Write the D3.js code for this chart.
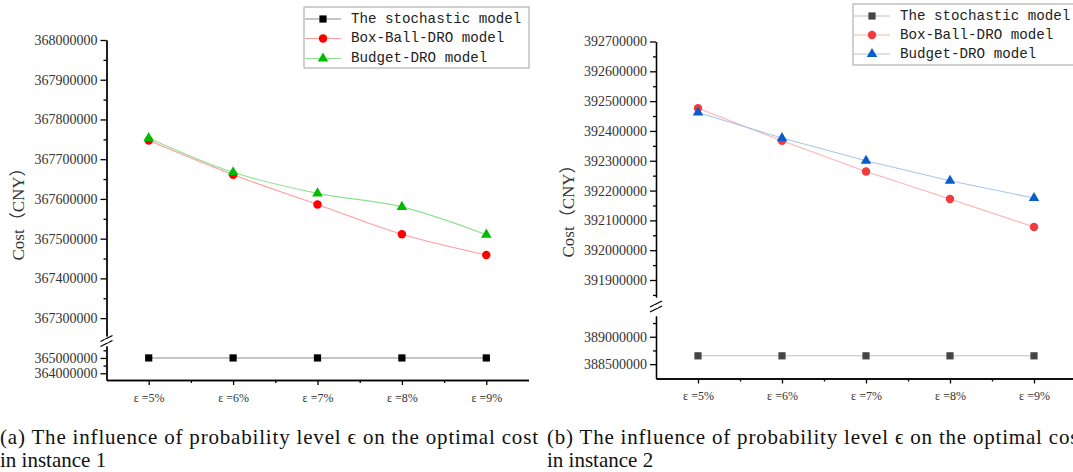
<!DOCTYPE html>
<html>
<head>
<meta charset="utf-8">
<script src="https://cdn.jsdelivr.net/npm/d3@7"></script>
<style>
  body { margin: 0; background: #fff; }
  svg { display: block; }
</style>
</head>
<body>
<svg id="chart" width="1073" height="472"></svg>
<script>
// ---- data ----
const levels = [5, 6, 7, 8, 9];
const tickLabels = ["ε =5%", "ε =6%", "ε =7%", "ε =8%", "ε =9%"];
const seriesNames = ["The stochastic model", "Box-Ball-DRO model", "Budget-DRO model"];

// instance 1
const stochasticA = [365000000, 365000000, 365000000, 365000000, 365000000];
const boxBallA = [367747000, 367661000, 367586000, 367511000, 367459000];
const budgetA = [367753000, 367667000, 367614000, 367580000, 367510000];
const upperTicksA = [367300000, 367400000, 367500000, 367600000, 367700000, 367800000, 367900000, 368000000];
const lowerTicksA = [364000000, 365000000];
const lowerMinorA = [364500000, 365500000];

// instance 2
const stochasticB = [388652000, 388652000, 388652000, 388652000, 388652000];
const boxBallB = [392476000, 392367000, 392264000, 392172000, 392078000];
const budgetB = [392462000, 392376000, 392300000, 392233000, 392175000];
const upperTicksB = [391900000, 392000000, 392100000, 392200000, 392300000, 392400000, 392500000, 392600000, 392700000];
const lowerTicksB = [388500000, 389000000];
const lowerMinorB = [388750000, 389250000];

const captionA = ["(a) The influence of probability level ϵ on the optimal cost", "in instance 1"];
const captionB = ["(b) The influence of probability level ϵ on the optimal cost", "in instance 2"];

const svg = d3.select("#chart");

function midpoints(ticks) {
  return d3.pairs(ticks).map(p => (p[0] + p[1]) / 2);
}

function drawPanel(p) {
  const g = svg.append("g");

  const x = d3.scaleLinear([4.5, 9.5], [p.left, p.right]);
  const yUp = d3.scaleLinear(p.upperDomain, p.upperRange);
  const yLo = d3.scaleLinear(p.lowerDomain, p.lowerRange);
  const axisY = p.lowerRange[0];

  // y axis, upper part
  const upMinor = midpoints(p.upperTicks).concat([p.upperTicks[0] - 50000])
    .filter(v => v >= p.upperDomain[0]);
  g.append("g").attr("class", "axis")
    .attr("transform", `translate(${p.left},0)`)
    .call(d3.axisLeft(yUp).tickValues(upMinor).tickSize(3).tickSizeOuter(0).tickFormat(""));
  g.append("g").attr("class", "axis")
    .attr("transform", `translate(${p.left},0)`)
    .call(d3.axisLeft(yUp).tickValues(p.upperTicks).tickSize(6).tickSizeOuter(0).tickPadding(3)
      .tickFormat(d3.format("d")));

  // y axis, lower part
  g.append("g").attr("class", "axis")
    .attr("transform", `translate(${p.left},0)`)
    .call(d3.axisLeft(yLo).tickValues(p.lowerMinor).tickSize(3).tickSizeOuter(0).tickFormat(""));
  g.append("g").attr("class", "axis")
    .attr("transform", `translate(${p.left},0)`)
    .call(d3.axisLeft(yLo).tickValues(p.lowerTicks).tickSize(6).tickSizeOuter(0).tickPadding(3)
      .tickFormat(d3.format("d")));

  // break marks
  const bm = (p.upperRange[0] + p.lowerRange[1]) / 2;
  [-2.5, 2.5].forEach(o => {
    g.append("line")
      .attr("x1", p.left - 6).attr("y1", bm + o + 3)
      .attr("x2", p.left + 6).attr("y2", bm + o - 3)
      .attr("stroke", "#000").attr("stroke-width", 1.3);
  });
  g.append("rect")
    .attr("x", p.left - 2).attr("y", bm - 1.5)
    .attr("width", 4).attr("height", 3).attr("fill", "#fff");

  // x axis
  g.append("g").attr("class", "axis")
    .attr("transform", `translate(0,${axisY})`)
    .call(d3.axisBottom(x).tickValues(midpoints(levels)).tickSize(3).tickSizeOuter(0).tickFormat(""));
  g.append("g").attr("class", "axis xaxis")
    .attr("transform", `translate(0,${axisY})`)
    .call(d3.axisBottom(x).tickValues(levels).tickSize(5).tickSizeOuter(0).tickPadding(8)
      .tickFormat((d, i) => tickLabels[i]));

  g.selectAll(".axis path, .axis line").attr("stroke", "#000").attr("stroke-width", 1.3);
  g.selectAll(".axis text")
    .attr("fill", "#333")
    .style("font-family", "'Liberation Serif', serif")
    .style("font-size", "14px");
  g.selectAll(".xaxis text").style("font-size", "12px");

  // y title
  g.append("text")
    .attr("transform", `translate(${p.titleX},${p.titleY}) rotate(-90)`)
    .attr("text-anchor", "middle")
    .attr("dominant-baseline", "middle")
    .attr("fill", "#333")
    .style("font-family", "'Liberation Serif', 'Noto Sans CJK SC', serif")
    .style("font-size", "17px")
    .text("Cost（CNY）");

  // series
  p.series.forEach(s => {
    const y = s.lower ? yLo : yUp;
    const line = d3.line()
      .x((d, i) => x(levels[i]))
      .y(d => y(d))
      .curve(p.curve);
    g.append("path")
      .datum(s.values)
      .attr("fill", "none")
      .attr("stroke", s.lineColor)
      .attr("stroke-width", 1.1)
      .attr("d", line);
    g.selectAll(null)
      .data(s.values)
      .enter()
      .append("path")
      .attr("transform", (d, i) => `translate(${x(levels[i])},${y(d)})`)
      .attr("d", d3.symbol(s.symbol, s.size)())
      .attr("fill", s.color);
  });

  // legend
  const lg = g.append("g");
  lg.append("rect")
    .attr("x", p.legend.x).attr("y", p.legend.y)
    .attr("width", p.legend.w).attr("height", p.legend.h)
    .attr("fill", "#fff").attr("stroke", "#a0a0a0").attr("stroke-width", 1);
  p.series.forEach((s, i) => {
    const ry = p.legend.rows[i];
    lg.append("line")
      .attr("x1", p.legend.x + 1).attr("x2", p.legend.x + 37)
      .attr("y1", ry).attr("y2", ry)
      .attr("stroke", s.lineColor).attr("stroke-width", 1.1);
    lg.append("path")
      .attr("transform", `translate(${p.legend.x + 19},${ry})`)
      .attr("d", d3.symbol(s.symbol, s.size)())
      .attr("fill", s.color);
    lg.append("text")
      .attr("x", p.legend.x + 47).attr("y", ry)
      .attr("dominant-baseline", "middle")
      .attr("fill", "#222")
      .style("font-family", "'Liberation Mono', monospace")
      .style("font-size", "14.2px")
      .text(seriesNames[i]);
  });

  // caption
  g.append("text")
    .attr("x", p.capX).attr("y", 444)
    .attr("textLength", 538).attr("lengthAdjust", "spacing")
    .attr("fill", "#111")
    .style("font-family", "'Liberation Serif', serif")
    .style("font-size", "21px")
    .text(p.caption[0]);
  g.append("text")
    .attr("x", p.capX).attr("y", 467)
    .attr("fill", "#111")
    .style("font-family", "'Liberation Serif', serif")
    .style("font-size", "21px")
    .text(p.caption[1]);
}

drawPanel({
  left: 106.5, right: 528.5,
  upperDomain: [367255000, 368000000], upperRange: [336, 40], upperTicks: upperTicksA,
  lowerDomain: [363560000, 365780000], lowerRange: [380, 346], lowerTicks: lowerTicksA, lowerMinor: lowerMinorA,
  titleX: 20, titleY: 210,
  curve: d3.curveMonotoneX,
  series: [
    { values: stochasticA, lower: true, color: "#000", lineColor: "#8c8c8c", symbol: d3.symbolSquare, size: 52 },
    { values: boxBallA, color: "#ff0000", lineColor: "#ff9d9d", symbol: d3.symbolCircle, size: 56 },
    { values: budgetA, color: "#00bb00", lineColor: "#8fe08f", symbol: d3.symbolTriangle, size: 48 }
  ],
  legend: { x: 304, y: 7, w: 225, h: 61, rows: [19, 38.5, 58.5] },
  caption: captionA, capX: 0
});

drawPanel({
  left: 656, right: 1076,
  upperDomain: [391843000, 392700000], upperRange: [297, 41.5], upperTicks: upperTicksB,
  lowerDomain: [388238000, 389379000], lowerRange: [378.5, 316], lowerTicks: lowerTicksB, lowerMinor: lowerMinorB,
  titleX: 570, titleY: 207,
  curve: d3.curveLinear,
  series: [
    { values: stochasticB, lower: true, color: "#454545", lineColor: "#c0c0c0", symbol: d3.symbolSquare, size: 52 },
    { values: boxBallB, color: "#f23c3c", lineColor: "#ffb2b2", symbol: d3.symbolCircle, size: 56 },
    { values: budgetB, color: "#0a5ccb", lineColor: "#a9c5f0", symbol: d3.symbolTriangle, size: 48 }
  ],
  legend: { x: 853, y: 4, w: 240, h: 61, rows: [16, 35, 54] },
  caption: captionB, capX: 547
});
</script>
</body>
</html>
